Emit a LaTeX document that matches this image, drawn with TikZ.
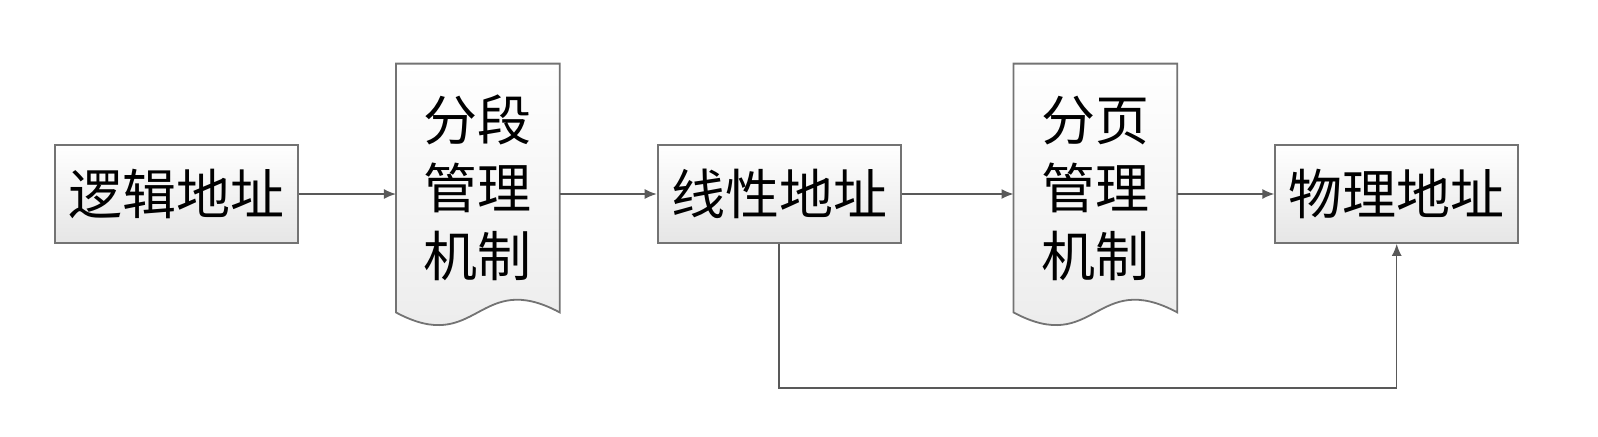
\documentclass[tikz,border=0pt]{standalone}
\usepackage{fontspec}
\setmainfont{Noto Sans CJK SC}
\usetikzlibrary{shapes,arrows,arrows.meta,positioning,calc,backgrounds}
\tikzstyle{arrow}=[draw, line width=0.7pt, color=black!65, -{Latex[length=6pt,width=5pt]}]
\tikzstyle{addr}=[draw=black!55, line width=0.9pt, top color=white, bottom color=black!10, minimum width=121.5pt, minimum height=49pt, inner sep=0pt]
\tikzstyle{mech}=[minimum width=81.5pt, minimum height=124pt, inner sep=0pt, align=center]
\tikzstyle{docline}=[draw=black!55, line width=0.9pt, top color=white, bottom color=black!8]
\newcommand{\docshape}[1]{\draw [docline] (#1.north west) -- (#1.north east) -- (#1.south east) .. controls ($(#1.south)+(0,22pt)$) and ($(#1.south)+(0,-22pt)$) .. (#1.south west) -- cycle;}

\begin{document}
\begin{tikzpicture}[font=\fontsize{27}{34}\selectfont]
\useasboundingbox (0,0) rectangle (799pt,-218pt);

\node (logic) [addr] at (88.25pt,-97pt) {逻辑地址};
\node (seg) [mech, right=48.5pt of logic, yshift=3pt] {分段\\管理\\机制};
\node (linear) [addr, right=48.5pt of seg, yshift=-3pt] {线性地址};
\node (page) [mech, right=56pt of linear, yshift=3pt] {分页\\管理\\机制};
\node (phys) [addr, right=48.5pt of page, yshift=-3pt] {物理地址};
\coordinate (low) at (0,-194pt);

\begin{scope}[on background layer]
\docshape{seg}
\docshape{page}
\end{scope}

\draw [arrow] (logic.east) -- (logic.east -| seg.west);
\draw [arrow] (seg.east |- linear) -- (linear.west);
\draw [arrow] (linear.east) -- (linear.east -| page.west);
\draw [arrow] (page.east |- phys) -- (phys.west);
\draw [arrow] (linear.south) -- (linear.south |- low) -| (phys.south);

\end{tikzpicture}
\end{document}
